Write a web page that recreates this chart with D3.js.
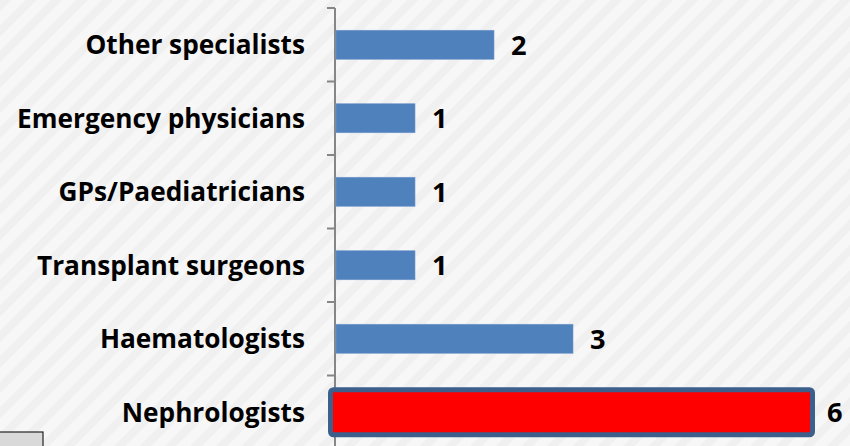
<!DOCTYPE html>
<html><head><meta charset="utf-8">
<script src="https://cdn.jsdelivr.net/npm/d3@7"></script>
<style>html,body{margin:0;padding:0;background:#f5f5f5;overflow:hidden}</style>
</head><body>
<svg id="chart" width="850" height="446"></svg>
<script>
const categories = ["Other specialists","Emergency physicians","GPs/Paediatricians","Transplant surgeons","Haematologists","Nephrologists"];
const values = [2,1,1,1,3,6];
const highlight = ["Nephrologists"];

const W = 850, H = 446;
const svg = d3.select("#chart");
const defs = svg.append("defs");
const pat = defs.append("pattern").attr("id","stripes").attr("patternUnits","userSpaceOnUse")
  .attr("width",18).attr("height",18).attr("patternTransform","rotate(45)");
pat.append("rect").attr("width",18).attr("height",18).attr("fill","#f7f7f7");
pat.append("rect").attr("width",8).attr("height",18).attr("fill","#f0f0f0");
svg.append("rect").attr("width",W).attr("height",H).attr("fill","url(#stripes)");

const y = d3.scaleBand().domain(categories).range([8,449]).padding(0);
const x = d3.scaleLinear().domain([0,6]).range([336,810]);
const barH = 29;
const font = "'Open Sans', sans-serif";

// fit label font size so the widest label spans ~288px
const probe = svg.append("text").attr("font-family",font).attr("font-weight","bold").attr("font-size",24).text("Emergency physicians");
const fs = 24 * 288 / probe.node().getComputedTextLength();
probe.remove();

// axis
const axisX = 335;
const ax = svg.append("g").attr("transform",`translate(${axisX},0)`);
const bounds = categories.map(c=>y(c)).concat([y.range()[1]]);
ax.append("line").attr("y1",bounds[0]).attr("y2",bounds[bounds.length-1]).attr("stroke","#868686").attr("stroke-width",2);
ax.selectAll(".tk").data(bounds).join("line").attr("x1",-8).attr("x2",0)
  .attr("y1",d=>d).attr("y2",d=>d).attr("stroke","#868686").attr("stroke-width",2);

// bars
const g = svg.append("g");
categories.forEach((c,i)=>{
  const cy = y(c)+y.bandwidth()/2;
  if (highlight.includes(c)) {
    g.append("rect").attr("x",x(0)-5.5).attr("y",cy-22.5).attr("width",x(values[i])-x(0)+8)
      .attr("height",45).attr("rx",3).attr("fill","#ff0000").attr("stroke","#3c5f8c").attr("stroke-width",5);
  } else {
    g.append("rect").attr("x",x(0)).attr("y",cy-barH/2).attr("width",x(values[i])-x(0))
      .attr("height",barH).attr("fill","#4f81bd").attr("stroke","#6f98cc").attr("stroke-width",0.6);
  }
  g.append("text").attr("x",x(values[i])+17).attr("y",cy).attr("dy","0.36em")
    .attr("font-family",font).attr("font-weight","bold").attr("font-size",fs+1).attr("fill","#000").text(values[i]);
  svg.append("text").attr("x",305).attr("y",cy).attr("dy","0.36em").attr("text-anchor","end")
    .attr("font-family",font).attr("font-weight","bold").attr("font-size",fs).attr("fill","#000").text(c);
});

// small gray box bottom-left
svg.append("rect").attr("x",-2).attr("y",432).attr("width",45).attr("height",20)
  .attr("fill","#d9d9d9").attr("stroke","#222").attr("stroke-width",1.2);
</script>
</body></html>
